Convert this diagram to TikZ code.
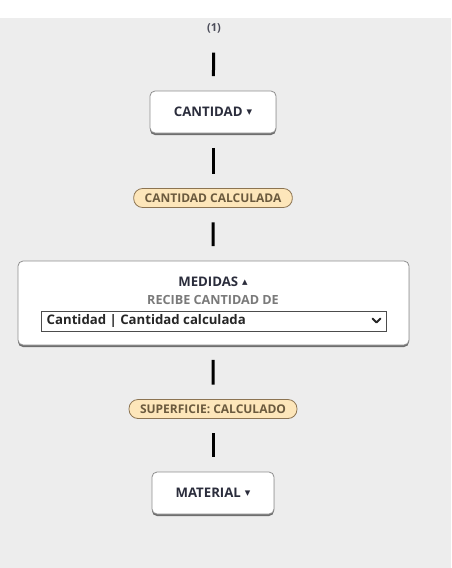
\documentclass[tikz,border=0pt]{standalone}
\usepackage{fontspec}
\setmainfont{Open Sans}
\newfontfamily\symfont{DejaVu Sans}
\usetikzlibrary{positioning}
\definecolor{pagegray}{HTML}{EDEDED}
\definecolor{inktext}{HTML}{2B2D3C}
\definecolor{boxline}{HTML}{8E8E8E}
\definecolor{boxshade}{HTML}{6E6E6E}
\definecolor{pillfill}{HTML}{FDE6BA}
\definecolor{pillline}{HTML}{8C7452}
\definecolor{pilltext}{HTML}{6B5A3E}
\definecolor{subtext}{HTML}{7A7A7A}
\newcommand{\caretdown}{\hspace{4pt}\raisebox{1pt}{\symfont\fontsize{11}{11}\selectfont ▾}}
\newcommand{\caretup}{\hspace{4pt}\raisebox{1.5pt}{\symfont\fontsize{11}{11}\selectfont ▴}}

\begin{document}
\begin{tikzpicture}[
  x=1pt, y=-1pt,
  font=\fontsize{13.2}{15}\selectfont\bfseries,
  stepbox/.style={rectangle, draw=boxline, line width=0.8pt, fill=white, rounded corners=5pt, text=inktext, inner sep=0pt,
    preaction={fill=boxshade, transform canvas={yshift=-2pt}}},
  pill/.style={rectangle, draw=pillline, line width=0.8pt, fill=pillfill, rounded corners=9pt, text=pilltext, minimum height=19pt, inner xsep=11pt, inner ysep=0pt, font=\fontsize{12}{13}\selectfont\bfseries},
  picker/.style={rectangle, draw=black!70, line width=0.8pt, fill=white, inner sep=0pt, minimum width=345pt, minimum height=20pt},
  link/.style={line width=3pt, shorten <=14.5pt, shorten >=14.5pt},
]

% page
\fill[white] (0,0) rectangle (451,18);
\fill[pagegray] (0,18) rectangle (451,568);

\node[text=inktext!85, font=\fontsize{11}{12}\selectfont\bfseries, minimum height=20pt, inner sep=0pt] (start) at (214,28) {(1)};
\node[stepbox, minimum width=126pt, minimum height=42pt] (cantidad) at (213,112) {CANTIDAD\caretdown};
\node[pill] (calc) at (213,198) {CANTIDAD CALCULADA};
\node[stepbox, minimum width=391pt, minimum height=84pt] (medidas) at (213.5,303) {};
\node[text=inktext] (med-title) at (213,282) {MEDIDAS\caretup};
\node[text=subtext, font=\fontsize{12.6}{14}\selectfont\bfseries] (med-sub) at (213,300) {RECIBE CANTIDAD DE};
\node[picker] (med-sel) at (213.5,321) {};
\node[text=black!85, anchor=west, inner sep=0pt] (med-opt) at (46.5,321) {Cantidad | Cantidad calculada};
\draw[line width=1.8pt, line cap=round, line join=round, black!85] (372.5,318.5) -- (376.5,322.5) -- (380.5,318.5);
\node[pill] (superficie) at (213,409) {SUPERFICIE: CALCULADO};
\node[stepbox, minimum width=122pt, minimum height=42pt] (material) at (213,493) {MATERIAL\caretdown};

\draw[link] (start) -- (cantidad);
\draw[link] (cantidad) -- (calc);
\draw[link] (calc) -- (medidas);
\draw[link] (medidas) -- (superficie);
\draw[link] (superficie) -- (material);

\end{tikzpicture}
\end{document}
